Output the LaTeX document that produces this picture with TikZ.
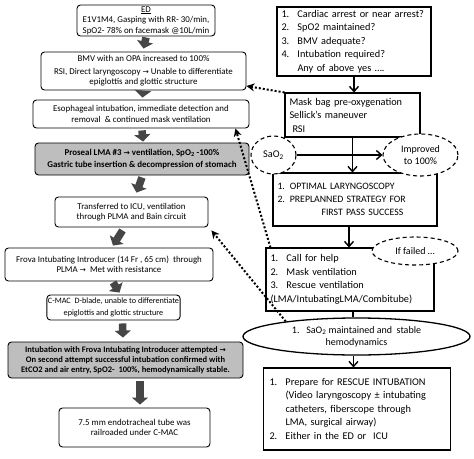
\documentclass[tikz,border=0pt]{standalone}
\usepackage{fontspec}
\setmainfont{Carlito}
\newfontfamily\symf{DejaVu Sans}
\usetikzlibrary{arrows.meta,shapes.geometric,calc}
\definecolor{boxgray}{RGB}{190,190,190}
\definecolor{arrowgray}{RGB}{70,70,70}
\newcommand{\lf}{\fontsize{8.9}{10.4}\selectfont}
\newcommand{\rf}{\fontsize{10.3}{13.5}\selectfont}
\newcommand{\arr}{{\symf\fontsize{7.5}{8}\selectfont →}}
\newcommand{\nb}[1]{\makebox[16pt][l]{#1}}
\begin{document}
\begin{tikzpicture}[x=1pt,y=-1pt,
  lbox/.style={draw, rounded corners=3.5pt, line width=0.9pt, align=center, inner sep=1pt, font=\lf},
  gbox/.style={lbox, fill=boxgray, font=\lf\bfseries},
  rbox/.style={draw, line width=1.1pt, align=left, inner xsep=4.5pt, inner ysep=1pt, font=\rf},
  dell/.style={ellipse, draw, line width=1.1pt, dash pattern=on 4pt off 3pt, fill=white, inner sep=0pt, align=center, font=\rf},
  barrow/.style={draw=arrowgray, line width=7.5pt, -{Triangle[length=7pt,width=16pt]}},
  karrow/.style={line width=1.4pt, -{Straight Barb[length=5pt,width=9pt]}},
  darrow/.style={line width=2pt, dash pattern=on 2pt off 2pt, -{Stealth[length=8pt,width=8pt]}}]
\useasboundingbox (0,0) rectangle (474,458);

% left column
\node[lbox, minimum width=138pt, minimum height=31pt] (ed) at (146,20.5)
  {\underline{ED}\\E1V1M4, Gasping with RR- 30/min,\\SpO2- 78\% on facemask @10L/min};
\node[lbox, minimum width=205pt, minimum height=38pt] (bmv) at (143.5,71)
  {BMV with an OPA increased to 100\%\\[2pt]RSI, Direct laryngoscopy \arr\ Unable to differentiate\\epiglottis and glottic structure};
\node[lbox, minimum width=216pt, minimum height=28pt] (eso) at (141,114)
  {Esophageal intubation, immediate detection and\\removal \ \& continued mask ventilation};
\node[gbox, minimum width=214pt, minimum height=32pt] (pro) at (142,159)
  {Proseal LMA \#3 \arr\ ventilation, SpO\textsubscript{2} -100\%\\[1pt]Gastric tube insertion \& decompression of stomach};
\node[lbox, minimum width=153pt, minimum height=30pt] (trans) at (131.5,212)
  {Transferred to ICU, ventilation\\through PLMA and Bain circuit};
\node[lbox, minimum width=208pt, minimum height=33pt] (frova) at (109,264.5)
  {Frova Intubating Introducer (14 Fr , 65 cm) \ through\\PLMA \arr\ \ Met with resistance};
\node[lbox, minimum width=133pt, minimum height=25pt, font=\fontsize{8.2}{9}\selectfont] (cmac) at (113.5,307.5)
  {C-MAC \ D-blade, unable to differentiate\\[3pt]epiglottis and glottic structure};
\node[gbox, minimum width=235pt, minimum height=36pt, font=\fontsize{8.5}{10.2}\selectfont\bfseries] (intub) at (125.5,360)
  {Intubation with Frova Intubating Introducer attempted \arr\\On second attempt successful intubation confirmed with\\EtCO2 and air entry, SpO2- \ 100\%, hemodynamically stable.};
\node[lbox, minimum width=151pt, minimum height=39pt] (fin) at (134.5,427.5)
  {7.5 mm endotracheal tube was\\railroaded under C-MAC};

\draw[barrow] ([yshift=-1pt]ed.south) -- ([yshift=3pt]bmv.north);
\draw[barrow] ([xshift=-0.5pt,yshift=-1pt]bmv.south) -- ([xshift=1.5pt,yshift=2pt]eso.north);
\draw[barrow] ([xshift=1pt,yshift=-2pt]eso.south) -- ([xshift=1pt,yshift=1pt]pro.north);
\draw[barrow] ([xshift=0pt,yshift=-2pt]pro.south) -- ([xshift=5pt,yshift=4pt]trans.north);
\draw[barrow] ([xshift=-9pt,yshift=-3pt]trans.south) -- ([xshift=4pt,yshift=2pt]frova.north);
\draw[barrow] ([xshift=4pt,yshift=-1pt]frova.south) -- ([xshift=6pt,yshift=2pt]cmac.north);
\draw[barrow] ([xshift=9pt,yshift=-3pt]cmac.south) -- ([xshift=-2.5pt,yshift=4pt]intub.north);
\draw[barrow] ([xshift=14.5pt,yshift=-3pt]intub.south) -- ([xshift=5.5pt,yshift=3pt]fin.north);

% right column
\node[rbox, text width=145pt, minimum height=69pt] (q) at (354,41.5)
  {\nb{1.}Cardiac arrest or near arrest?\\\nb{2.}SpO2 maintained?\\\nb{3.}BMV adequate?\\\nb{4.}Intubation required?\\\hspace*{16pt}Any of above yes ….};
\node[rbox, text width=126pt, minimum height=44pt] (mask) at (352.5,115)
  {Mask bag pre-oxygenation\\Sellick’s maneuver\\\hspace*{3pt}RSI};
\node[rbox, text width=155pt, minimum height=53pt, font=\fontsize{9.8}{13}\selectfont] (opt) at (355,199.5)
  {1. OPTIMAL LARYNGOSCOPY\\2. PREPLANNED STRATEGY FOR\\\hspace*{44pt}FIRST PASS SUCCESS};
\node[rbox, text width=159pt, minimum height=63pt] (call) at (350,279.5)
  {\nb{1.}Call for help\\\nb{2.}Mask ventilation\\\nb{3.}Rescue ventilation\\(LMA/IntubatingLMA/Combitube)};
\node[rbox, text width=175pt, minimum height=82pt, inner xsep=6pt] (resc) at (357,409)
  {\nb{1.}Prepare for RESCUE INTUBATION\\\hspace*{16pt}(Video laryngoscopy ± intubating\\\hspace*{16pt}catheters, fiberscope through\\\hspace*{16pt}LMA, surgical airway)\\\nb{2.}Either in the ED or \ ICU};

\node[dell, minimum width=45pt, minimum height=38pt] (sao) at (273.5,155) {SaO\textsubscript{2}};
\node[dell, minimum width=75pt, minimum height=42pt, font=\fontsize{10}{12}\selectfont] (impr) at (420.5,155) {Improved\\to 100\%};
\node[dell, minimum width=86pt, minimum height=28pt, font=\fontsize{10}{12}\selectfont] (iff) at (415,251) {If failed …};
\node[ellipse, draw, line width=1.3pt, fill=white, minimum width=227pt, minimum height=37pt, inner sep=0pt, align=center, font=\fontsize{10}{12}\selectfont] (big) at (356.5,336.5)
  {1.\ \ \ SaO\textsubscript{2} maintained and \ stable\\hemodynamics};

\draw[karrow] (q.south) -- (q.south |- mask.north);
\draw[karrow] (mask.south) -- (mask.south |- opt.north);
\draw[karrow] (sao.east) -- (impr.west);
\draw[karrow] ([xshift=-6pt]opt.south) -- ([xshift=-6pt]opt.south |- call.north);
\draw[line width=1.4pt] ([xshift=3pt]call.south) -- ([xshift=3pt]call.south |- big.north);
\draw[karrow] ([xshift=-3pt]big.south) -- ([xshift=-3pt]big.south |- resc.north);

% dotted arrows
\draw[darrow] (mask.north west) -- ([yshift=-15pt]bmv.east);
\draw[darrow] ([xshift=5pt]call.north west) -- ([xshift=-14pt]eso.south east);
\draw[darrow] (big.168) -- ([xshift=3pt,yshift=-3pt]trans.south east);
\end{tikzpicture}
\end{document}
